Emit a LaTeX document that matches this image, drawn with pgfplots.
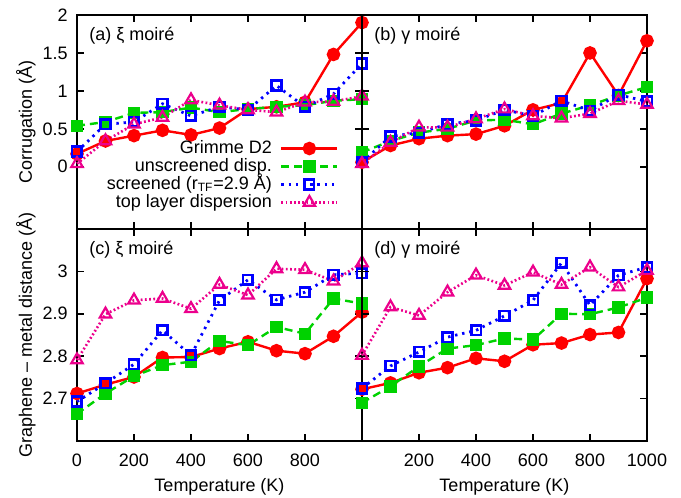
\documentclass[border=0pt]{standalone}
\usepackage{fontspec}
\setmainfont{Liberation Sans}
\usepackage{pgfplots}
\pgfplotsset{compat=1.18}
\definecolor{gn}{RGB}{0,210,0}
\pgfplotsset{
  panel/.style={scale only axis, width=142.5pt, clip=false, xmin=0, xmax=1000,
    anchor=south west, tick align=inside, xtick pos=both, ytick pos=both,
    yticklabel pos=left, xticklabel pos=bottom,
    major tick length=3.5pt, minor tick num=0,
    axis line style={line width=0.9pt},
    every tick/.style={line width=0.8pt, black},
    font=\fontsize{9}{10.8}\selectfont,
    /pgf/number format/assume math mode=true,
    /pgf/number format/1000 sep={},
    xticklabel style={yshift=-3pt},
    yticklabel style={xshift=-1.2pt},
    every axis x label/.style={at={(rel axis cs:0.5,0)}, yshift=-23pt, anchor=center},
    every axis y label/.style={at={(rel axis cs:0,0.5)}, xshift=-25.5pt, rotate=90, anchor=center},
    legend image code/.code={\draw[mark repeat=2,mark phase=2] plot coordinates {(0pt,0pt) (14pt,0pt) (28pt,0pt)};},
  },
  top/.style={panel, height=107pt, ymin=-0.82, ymax=2, ytick={0,0.5,1,1.5,2}, xticklabels={}},
  bot/.style={panel, height=106pt, ymin=2.6, ymax=3.1, ytick={2.7,2.8,2.9,3}},
  sr/.style={color=red, line width=1.2pt, mark=*, mark size=2.8pt, mark options={solid}},
  sg/.style={color=gn, line width=1.2pt, dash pattern=on 4pt off 2.5pt, mark=square*, mark size=2.5pt, mark options={solid}},
  sb/.style={color=blue, line width=1.4pt, dash pattern=on 1.2pt off 2.4pt, mark=square, mark size=2.4pt, mark options={solid, line width=1.3pt}},
  sm/.style={color=magenta, line width=1.3pt, dash pattern=on 0.9pt off 1.2pt, mark=triangle, mark size=3.3pt, mark options={solid, line width=1.1pt}},
}
\newcommand{\plab}[1]{\node[anchor=west, inner sep=0pt, font=\fontsize{9}{10.8}\selectfont] at ([xshift=6pt,yshift=-10.5pt]rel axis cs:0,1) {#1};}
\begin{document}
\begin{tikzpicture}
\useasboundingbox (-38.5pt,-28.5pt) rectangle (302pt,220.5pt);
% (c)
\begin{axis}[bot, at={(0pt,0pt)}, xtick={0,200,400,600,800}, xlabel={Temperature (K)}, ylabel={Graphene – metal distance (Å)}]
\addplot[sr] coordinates {(0,2.712)(100,2.733)(200,2.751)(300,2.797)(400,2.798)(500,2.818)(600,2.834)(700,2.813)(800,2.806)(900,2.847)(1000,2.904)};
\addplot[sg] coordinates {(0,2.664)(100,2.712)(200,2.753)(300,2.779)(400,2.787)(500,2.836)(600,2.826)(700,2.869)(800,2.853)(900,2.936)(1000,2.924)};
\addplot[sb] coordinates {(0,2.693)(100,2.736)(200,2.781)(300,2.861)(400,2.802)(500,2.932)(600,2.980)(700,2.933)(800,2.951)(900,2.992)(1000,2.996)};
\addplot[sm] coordinates {(0,2.791)(100,2.899)(200,2.932)(300,2.936)(400,2.912)(500,2.969)(600,2.944)(700,3.006)(800,3.004)(900,2.977)(1000,3.020)};
\plab{(c) ξ moiré}
\end{axis}
% (d)
\begin{axis}[bot, at={(142.5pt,0pt)}, xtick={200,400,600,800,1000}, yticklabels={}, xlabel={Temperature (K)}]
\addplot[sr] coordinates {(0,2.722)(100,2.737)(200,2.761)(300,2.773)(400,2.795)(500,2.788)(600,2.827)(700,2.831)(800,2.851)(900,2.856)(1000,2.983)};
\addplot[sg] coordinates {(0,2.690)(100,2.729)(200,2.776)(300,2.818)(400,2.826)(500,2.842)(600,2.839)(700,2.900)(800,2.899)(900,2.915)(1000,2.938)};
\addplot[sb] coordinates {(0,2.724)(100,2.777)(200,2.810)(300,2.845)(400,2.861)(500,2.895)(600,2.932)(700,3.020)(800,2.920)(900,2.991)(1000,3.010)};
\addplot[sm] coordinates {(0,2.802)(100,2.916)(200,2.896)(300,2.951)(400,2.991)(500,2.967)(600,2.998)(700,2.969)(800,3.010)(900,2.963)(1000,3.002)};
\plab{(d) γ moiré}
\end{axis}
% (a)
\begin{axis}[top, at={(0pt,106pt)}, xtick={0,200,400,600,800}, ylabel={Corrugation (Å)},
  legend plot pos=right, legend cell align=right,
  legend style={draw=none, fill=none, inner sep=0pt, at={(rel axis cs:0.92,0.42)}, anchor=north east,
    font=\fontsize{9}{10.8}\selectfont, column sep=4pt,
    nodes={text height=6.8pt, text depth=2.2pt, inner sep=0pt}}]
\addplot[sr] coordinates {(0,0.17)(100,0.34)(200,0.41)(300,0.48)(400,0.42)(500,0.51)(600,0.76)(700,0.79)(800,0.85)(900,1.48)(1000,1.90)};
\addplot[sg] coordinates {(0,0.54)(100,0.59)(200,0.71)(300,0.72)(400,0.78)(500,0.72)(600,0.76)(700,0.79)(800,0.81)(900,0.87)(1000,0.89)};
\addplot[sb] coordinates {(0,0.20)(100,0.56)(200,0.59)(300,0.83)(400,0.67)(500,0.79)(600,0.75)(700,1.07)(800,0.79)(900,0.96)(1000,1.36)};
\addplot[sm] coordinates {(0,0.04)(100,0.34)(200,0.56)(300,0.65)(400,0.88)(500,0.81)(600,0.75)(700,0.72)(800,0.85)(900,0.86)(1000,0.93)};
\legend{Grimme D2, unscreened disp., screened (r\textsubscript{TF}=2.9 Å), top layer dispersion}
\plab{(a) ξ moiré}
\end{axis}
% (b)
\begin{axis}[top, at={(142.5pt,106pt)}, xtick={200,400,600,800,1000}, yticklabels={}]
\addplot[sr] coordinates {(0,0.06)(100,0.28)(200,0.37)(300,0.41)(400,0.43)(500,0.54)(600,0.75)(700,0.84)(800,1.50)(900,0.94)(1000,1.66)};
\addplot[sg] coordinates {(0,0.19)(100,0.34)(200,0.45)(300,0.50)(400,0.61)(500,0.62)(600,0.56)(700,0.70)(800,0.81)(900,0.94)(1000,1.05)};
\addplot[sb] coordinates {(0,0.06)(100,0.40)(200,0.45)(300,0.56)(400,0.61)(500,0.75)(600,0.67)(700,0.87)(800,0.74)(900,0.95)(1000,0.86)};
\addplot[sm] coordinates {(0,0.04)(100,0.32)(200,0.52)(300,0.52)(400,0.63)(500,0.76)(600,0.67)(700,0.64)(800,0.70)(900,0.87)(1000,0.82)};
\plab{(b) γ moiré}
\end{axis}
\end{tikzpicture}
\end{document}
